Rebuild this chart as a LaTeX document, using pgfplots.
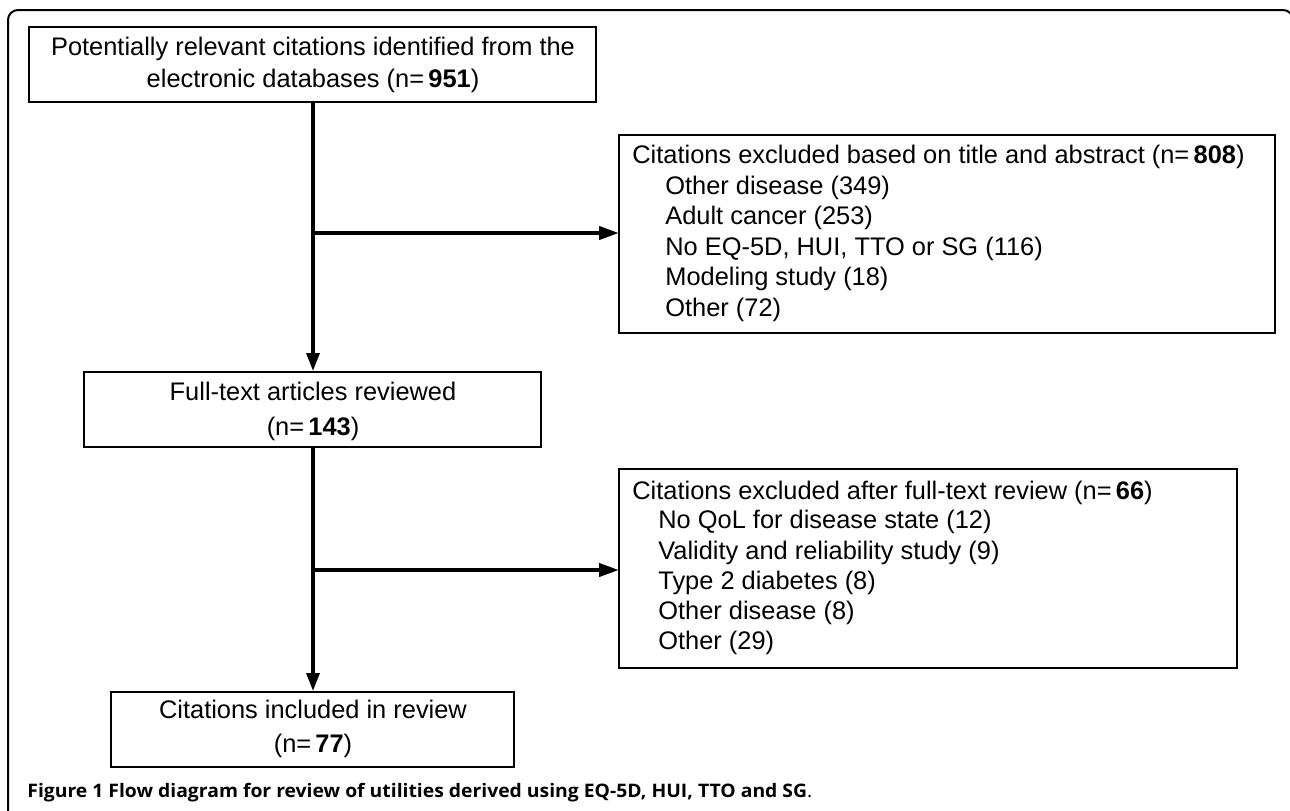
\documentclass[border=0pt]{standalone}
\usepackage{fontspec}
\setmainfont{Liberation Sans}
\newfontfamily\capfont{Open Sans}[FakeStretch=1.04]
\usepackage{pgfplots}
\pgfplotsset{compat=1.18}
\usetikzlibrary{arrows.meta}
\begin{document}
\begin{tikzpicture}
\begin{axis}[
  scale only axis, width=645pt, height=405pt,
  xmin=0, xmax=1290, ymin=0, ymax=810, y dir=reverse,
  hide axis, clip=false,
]
\coordinate (bbA) at (axis cs:0,810);
\coordinate (bbB) at (axis cs:1290,0);
% outer frame
\draw[line width=1pt, rounded corners=5pt] (axis cs:8,816) -- (axis cs:8,10) -- (axis cs:1293,10) -- (axis cs:1293,816);
% boxes
\draw[line width=0.8pt] (axis cs:29,27) rectangle (axis cs:596,102);
\draw[line width=0.8pt] (axis cs:619,135) rectangle (axis cs:1275,333);
\draw[line width=0.8pt] (axis cs:84,372) rectangle (axis cs:541,447);
\draw[line width=0.8pt] (axis cs:619,469) rectangle (axis cs:1237,668);
\draw[line width=0.8pt] (axis cs:111,692) rectangle (axis cs:514,767);
% arrows
\draw[line width=1.7pt, -{Triangle[length=9pt,width=6.5pt]}] (axis cs:313,102) -- (axis cs:313,371);
\draw[line width=2pt, -{Triangle[length=10pt,width=6.5pt]}] (axis cs:313,233) -- (axis cs:619,233);
\draw[line width=1.7pt, -{Triangle[length=9pt,width=6.5pt]}] (axis cs:313,447) -- (axis cs:313,691);
\draw[line width=2pt, -{Triangle[length=10pt,width=6.5pt]}] (axis cs:313,570) -- (axis cs:619,570);
% texts
\tikzset{tx/.style={inner sep=0pt, font=\fontsize{12.7}{15}\selectfont, text height=0.72em, text depth=0.2em}}
\node[tx] at (axis cs:313,50) {Potentially relevant citations identified from the};
\node[tx] at (axis cs:313,82) {electronic databases (n=\,\textbf{951})};
\node[tx, anchor=west] at (axis cs:632,158) {Citations excluded based on title and abstract (n=\,\textbf{808})};
\node[tx, anchor=west] at (axis cs:665,189) {Other disease (349)};
\node[tx, anchor=west] at (axis cs:665,219.5) {Adult cancer (253)};
\node[tx, anchor=west] at (axis cs:665,250) {No EQ-5D, HUI, TTO or SG (116)};
\node[tx, anchor=west] at (axis cs:665,280.5) {Modeling study (18)};
\node[tx, anchor=west] at (axis cs:665,311) {Other (72)};
\node[tx] at (axis cs:313,395) {Full-text articles reviewed};
\node[tx] at (axis cs:313,430) {(n=\,\textbf{143})};
\node[tx, anchor=west] at (axis cs:632,494) {Citations excluded after full-text review (n=\,\textbf{66})};
\node[tx, anchor=west] at (axis cs:658,523.5) {No QoL for disease state (12)};
\node[tx, anchor=west] at (axis cs:658,554) {Validity and reliability study (9)};
\node[tx, anchor=west] at (axis cs:658,584) {Type 2 diabetes (8)};
\node[tx, anchor=west] at (axis cs:658,614) {Other disease (8)};
\node[tx, anchor=west] at (axis cs:658,644.5) {Other (29)};
\node[tx] at (axis cs:313,713) {Citations included in review};
\node[tx] at (axis cs:313,747) {(n=\,\textbf{77})};
\node[inner sep=0pt, anchor=west, font=\capfont\fontsize{9.3}{10}\selectfont] at (axis cs:27,793) {\textbf{Figure 1} \textbf{Flow diagram for review of utilities derived using EQ-5D, HUI, TTO and SG}.};
\end{axis}
\pgfresetboundingbox
\path[use as bounding box] (bbA) rectangle (bbB);
\end{tikzpicture}
\end{document}
